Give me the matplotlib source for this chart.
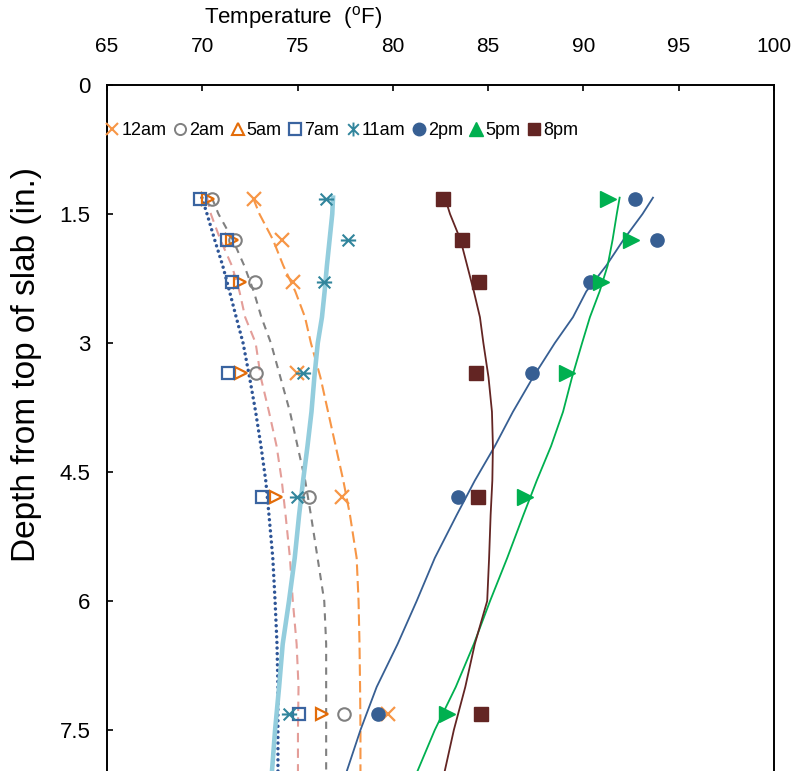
import numpy as np
import matplotlib.pyplot as plt
from matplotlib.lines import Line2D
from matplotlib.path import Path

plt.rcParams['font.family'] = ['Liberation Sans', 'DejaVu Sans']

# measured temperatures (markers)
series = ['12am', '2am', '5am', '7am', '11am', '2pm', '5pm', '8pm']
depth_meas = [1.32, 1.80, 2.29, 3.35, 4.79, 7.31]
t_12am = [72.71, 74.17, 74.76, 74.95, 77.31, 79.76]
t_2am = [70.51, 71.72, 72.77, 72.83, 75.60, 77.45]
t_5am = [70.30, 71.56, 71.98, 72.02, 73.86, 76.26]
t_7am = [69.88, 71.28, 71.56, 71.37, 73.14, 75.07]
t_11am = [76.49, 77.64, 76.39, 75.27, 74.98, 74.55]
t_2pm = [92.70, 93.84, 90.34, 87.28, 83.41, 79.22]
t_5pm = [91.27, 92.51, 90.93, 89.12, 86.95, 82.86]
t_8pm = [82.63, 83.61, 84.52, 84.34, 84.46, 84.64]

# predicted profiles (lines)
depth_pred = [1.31, 1.5, 1.8, 2.1, 2.4, 2.7, 3.0, 3.4, 3.8, 4.2, 4.6, 5.0, 5.5, 6.0, 6.5, 7.0, 7.5, 8.0]
p_12am = [72.66, 73.0, 73.71, 74.25, 74.88, 75.39, 75.7, 76.2, 76.6, 77.0, 77.4, 77.75, 78.1, 78.2, 78.25, 78.28, 78.3, 78.3]
p_2am = [70.5, 70.85, 71.6, 72.2, 72.7, 73.1, 73.6, 74.1, 74.6, 75.0, 75.4, 75.7, 76.05, 76.4, 76.5, 76.5, 76.5, 76.5]
p_5am = [70.25, 70.45, 70.95, 71.55, 71.95, 72.25, 72.8, 73.07, 73.5, 73.9, 74.17, 74.37, 74.6, 74.75, 74.95, 75.05, 75.02, 75.02]
p_7am = [69.98, 70.25, 70.65, 71.07, 71.43, 71.78, 72.14, 72.48, 72.8, 73.08, 73.33, 73.5, 73.7, 73.82, 73.92, 73.97, 73.97, 73.97]
p_11am = [76.86, 76.82, 76.68, 76.54, 76.42, 76.28, 76.06, 75.88, 75.73, 75.52, 75.29, 75.08, 74.85, 74.55, 74.22, 74.03, 73.82, 73.65]
p_2pm = [93.65, 93.1, 92.1, 91.2, 90.15, 89.45, 88.5, 87.35, 86.3, 85.35, 84.3, 83.35, 82.2, 81.25, 80.25, 79.15, 78.3, 77.55]
p_5pm = [91.9, 91.75, 91.53, 91.27, 90.85, 90.34, 89.93, 89.4, 88.93, 88.3, 87.55, 86.85, 86.0, 85.1, 84.25, 83.3, 82.2, 81.25]
p_8pm = [82.73, 83.0, 83.55, 83.9, 84.25, 84.57, 84.75, 85.02, 85.2, 85.25, 85.22, 85.13, 85.05, 84.95, 84.3, 83.8, 83.2, 82.7]

x_ticks = [65, 70, 75, 80, 85, 90, 95, 100]
y_ticks = [0, 1.5, 3, 4.5, 6, 7.5]

# asterisk markers (rotated in plot, upright in legend)
star_h = Path([(-1, -1), (1, 1), (-1, 1), (1, -1), (-1.3, 0), (1.3, 0)],
              [Path.MOVETO, Path.LINETO] * 3)
star_v = Path([(-1, -1), (1, 1), (-1, 1), (1, -1), (0, -1.3), (0, 1.3)],
              [Path.MOVETO, Path.LINETO] * 3)

fig = plt.figure(figsize=(7.99, 7.71), dpi=100)
ax = fig.add_axes([107 / 799, 0, 667 / 799, 686 / 771])

# lines
ax.plot(p_12am, depth_pred, color='#F79646', lw=1.5, dashes=(5.5, 2.5))
ax.plot(p_2am, depth_pred, color='#808080', lw=1.5, dashes=(3.5, 3))
ax.plot(p_5am, depth_pred, color='#E49E99', lw=1.5, dashes=(4.5, 3))
ax.plot(p_7am, depth_pred, color='#2E5597', lw=2.5, dashes=(0.01, 1.6),
        dash_capstyle='round')
ax.plot(p_11am, depth_pred, color='#93CDDD', lw=3.3)
ax.plot(p_2pm, depth_pred, color='#375F93', lw=1.3)
ax.plot(p_5pm, depth_pred, color='#00B050', lw=1.3)
ax.plot(p_8pm, depth_pred, color='#632523', lw=1.3)

# markers
ax.plot(t_12am, depth_meas, ls='none', marker='x', ms=9.5, mew=1.6, color='#F79646')
ax.plot(t_2am, depth_meas, ls='none', marker='o', ms=9, mew=1.5, mfc='none', mec='#808080')
ax.plot(t_5am, depth_meas, ls='none', marker='>', ms=9, mew=1.6, mfc='none', mec='#E36C09')
ax.plot(t_7am, depth_meas, ls='none', marker='s', ms=9, mew=1.6, mfc='none', mec='#3A64A0')
ax.plot(t_11am, depth_meas, ls='none', marker=star_h, ms=11, mew=1.5, color='#31859C')
ax.plot(t_2pm, depth_meas, ls='none', marker='o', ms=9.5, color='#375F93')
ax.plot(t_5pm, depth_meas, ls='none', marker='>', ms=12, color='#00B050')
ax.plot(t_8pm, depth_meas, ls='none', marker='s', ms=10, color='#632523')

ax.set_xlim(65, 100)
ax.set_ylim(686 / 86, 0)
ax.set_xticks(x_ticks)
ax.set_yticks(y_ticks)
ax.set_yticklabels(['0', '1.5', '3', '4.5', '6', '7.5'])
ax.xaxis.tick_top()
ax.tick_params(axis='x', direction='in', length=4, width=1.2, labelsize=15, pad=21)
ax.tick_params(axis='y', direction='in', length=4.5, width=1.2, labelsize=16, pad=12)
ax.spines['bottom'].set_visible(False)
for s in ['top', 'left', 'right']:
    ax.spines[s].set_linewidth(1.4)

fig.text(293 / 799, 1 - 18 / 771, r'Temperature  ($\mathregular{^o}$F)',
         ha='center', va='center', fontsize=16,
         family=['Liberation Sans Narrow', 'Liberation Sans', 'DejaVu Sans'])
fig.text(27 / 799, 1 - 365 / 771, 'Depth from top of slab (in.)',
         rotation=90, ha='center', va='center', fontsize=24)

handles = [
    Line2D([], [], ls='none', marker='x', ms=9, mew=1.5, color='#F79646'),
    Line2D([], [], ls='none', marker='o', ms=8, mew=1.4, mfc='none', mec='#808080'),
    Line2D([], [], ls='none', marker='^', ms=9, mew=1.5, mfc='none', mec='#E36C09'),
    Line2D([], [], ls='none', marker='s', ms=8.5, mew=1.6, mfc='none', mec='#3A64A0'),
    Line2D([], [], ls='none', marker=star_v, ms=10, mew=1.4, color='#31859C'),
    Line2D([], [], ls='none', marker='o', ms=9, color='#375F93'),
    Line2D([], [], ls='none', marker='^', ms=10, color='#00B050'),
    Line2D([], [], ls='none', marker='s', ms=9, color='#632523'),
]
ax.legend(handles, series, ncol=8, loc='center left', bbox_to_anchor=(0.0, 0.933),
          frameon=False, fontsize=13, handlelength=0.6, handletextpad=0.2,
          columnspacing=0.45, borderaxespad=0, borderpad=0)

fig.savefig('out.png', dpi=100)
